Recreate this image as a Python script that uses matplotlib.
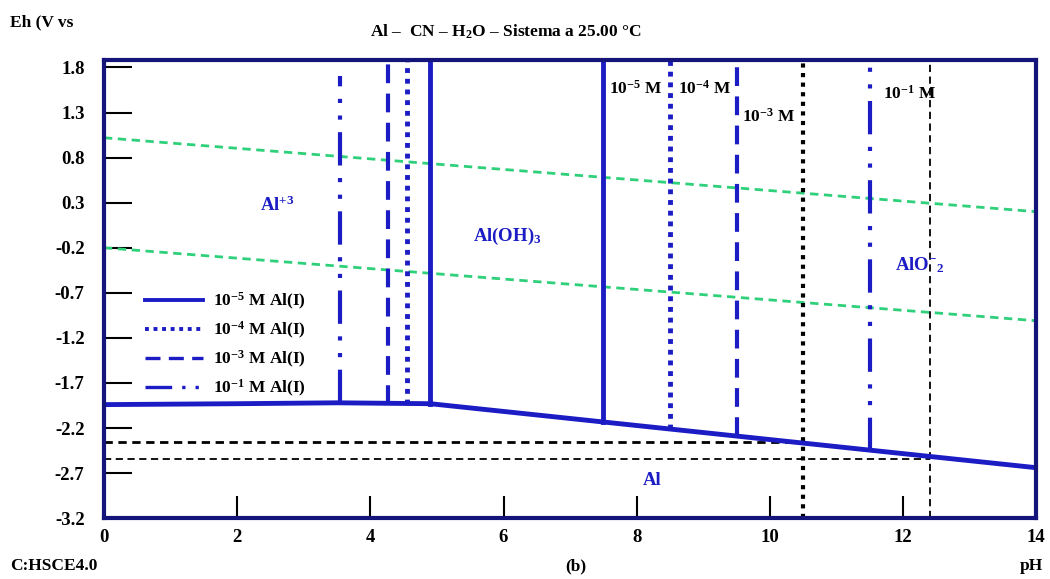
import matplotlib
matplotlib.use("Agg")
import matplotlib.pyplot as plt
from matplotlib.lines import Line2D

plt.rcParams['font.family'] = ['Liberation Serif', 'DejaVu Serif']
plt.rcParams['font.weight'] = 'bold'
plt.rcParams['mathtext.fontset'] = 'custom'
plt.rcParams['mathtext.rm'] = 'Liberation Serif:bold'
plt.rcParams['mathtext.it'] = 'Liberation Serif:bold'
plt.rcParams['mathtext.bf'] = 'Liberation Serif:bold'

# ---- data ----
ph_ticks = [0, 2, 4, 6, 8, 10, 12, 14]
eh_ticks = [1.8, 1.3, 0.8, 0.3, -0.2, -0.7, -1.2, -1.7, -2.2, -2.7, -3.2]

# Al / oxidised species boundary
al_ph = [0, 2, 3.5, 4.9, 14]
al_eh = [-1.94, -1.93, -1.92, -1.93, -2.64]

# water stability lines
water_ph = [0, 14]
o2_eh = [1.02, 0.20]
h2_eh = [-0.20, -1.01]

# Al(OH)3 boundaries for each concentration (left: Al+3, right: AlO2-)
conc_labels = ['10$^{-5}$ M Al(I)', '10$^{-4}$ M Al(I)', '10$^{-3}$ M Al(I)', '10$^{-1}$ M Al(I)']
left_ph = [4.90, 4.55, 4.27, 3.55]
left_bottom = [-1.93, -1.93, -1.93, -1.92]
left_top = [1.88, 1.88, 1.88, 1.70]
right_ph = [7.50, 8.50, 9.50, 11.50]
right_bottom = [-2.13, -2.21, -2.29, -2.45]
right_top = [1.88, 1.88, 1.88, 1.88]
top_labels = ['10$^{-5}$ M', '10$^{-4}$ M', '10$^{-3}$ M', '10$^{-1}$ M']

# black reference lines
ref_ph = [10.5, 12.4]
ref_eh = [-2.36, -2.54]

blue = '#1c1cc4'
frame = '#14147a'
green = '#2fd07a'

styles = [
    dict(linestyle='-', linewidth=3.5),
    dict(linestyle=(0, (1.0, 1.2)), linewidth=3.5),
    dict(linestyle=(0, (4.5, 2.5)), linewidth=3.0),
    dict(linestyle=(0, (8, 3, 1, 3, 1, 3)), linewidth=3.0),
]

fig = plt.figure(figsize=(10.5, 5.79), dpi=100)
ax = fig.add_axes([0.099, 0.105, 0.888, 0.791])

# water lines
ax.plot(water_ph, o2_eh, color=green, linestyle=(0, (3, 2)), linewidth=2)
ax.plot(water_ph, h2_eh, color=green, linestyle=(0, (3, 2)), linewidth=2)

# black reference lines
ax.plot([0, ref_ph[0]], [ref_eh[0], ref_eh[0]], color='black', linestyle=(0, (3, 2)), linewidth=2)
ax.plot([0, ref_ph[1]], [ref_eh[1], ref_eh[1]], color='black', linestyle=(0, (4, 2.5)), linewidth=1.3)
ax.plot([ref_ph[0], ref_ph[0]], [-3.2, 1.85], color='black', linestyle=(0, (1, 1.3)), linewidth=3)
ax.plot([ref_ph[1], ref_ph[1]], [-3.2, 1.88], color='black', linestyle=(0, (4, 2.5)), linewidth=1.3)

# Al boundary
ax.plot(al_ph, al_eh, color=blue, linewidth=3.5, solid_capstyle='butt')

handles = []
for i in range(len(conc_labels)):
    st = styles[i]
    ax.plot([left_ph[i], left_ph[i]], [left_bottom[i], left_top[i]], color=blue, **st)
    ax.plot([right_ph[i], right_ph[i]], [right_bottom[i], right_top[i]], color=blue, **st)
    handles.append(Line2D([], [], color=blue, linestyle=st['linestyle'],
                          linewidth=st['linewidth'] * 0.8))

leg = ax.legend(handles, conc_labels, loc='upper left', bbox_to_anchor=(0.035, 0.515),
                frameon=False, fontsize=12.5, handlelength=3.3, handletextpad=0.6,
                labelspacing=0.45, borderpad=0)

# region labels
ax.text(2.6, 0.27, 'Al$^{+3}$', color=blue, fontsize=13.5, ha='center', va='center')
ax.text(6.05, -0.08, 'Al(OH)$_3$', color=blue, fontsize=13.5, ha='center', va='center')
ax.text(12.25, -0.39, 'AlO$^{-}$$_{2}$', color=blue, fontsize=13.5, ha='center', va='center')
ax.text(8.23, -2.78, 'Al', color=blue, fontsize=13.5, ha='center', va='center')

# concentration labels near the top
lab_x = [7.98, 9.02, 9.98, 12.10]
lab_y = [1.56, 1.56, 1.25, 1.51]
for t, x, y in zip(top_labels, lab_x, lab_y):
    ax.text(x, y, t, color='black', fontsize=12.5, ha='center', va='center')

ax.set_xlim(0, 14)
ax.set_ylim(-3.2, 1.88)
ax.set_xticks(ph_ticks)
ax.set_yticks(eh_ticks)
ax.set_yticklabels([f'{v:.1f}' for v in eh_ticks])
ax.tick_params(axis='y', direction='in', length=20, width=1.5, color='black', pad=14, labelsize=13.5)
ax.tick_params(axis='x', direction='in', length=16, width=1.5, color='black', pad=8, labelsize=13.5)
for s in ax.spines.values():
    s.set_color(frame)
    s.set_linewidth(3)

fig.text(0.482, 0.945, 'Al –  CN – H$_2$O – Sistema a 25.00 °C', ha='center', va='center', fontsize=12.5)
fig.text(0.01, 0.962, 'Eh (V vs', ha='left', va='center', fontsize=12.5)
fig.text(0.01, 0.022, 'C:HSCE4.0', ha='left', va='center', fontsize=12.5)
fig.text(0.548, 0.022, '(b)', ha='center', va='center', fontsize=12.5)
fig.text(0.982, 0.022, 'pH', ha='center', va='center', fontsize=12.5)

fig.savefig('out.png', dpi=100)
